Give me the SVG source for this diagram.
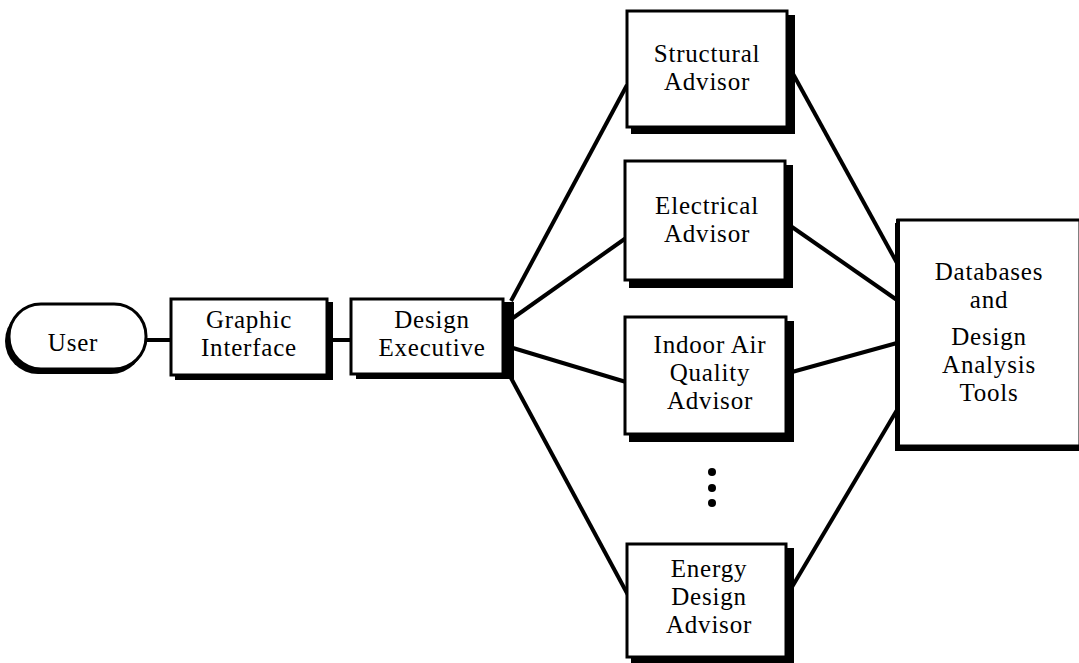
<svg xmlns="http://www.w3.org/2000/svg" width="1079" height="663" viewBox="0 0 1079 663">
<style>
.box{fill:#fff;stroke:#000;stroke-width:3}
.sh{fill:#000}
.t{font-family:"Liberation Serif","Times New Roman",serif;font-size:25px;letter-spacing:0.8px;fill:#000;text-anchor:middle}
.c{stroke:#000;stroke-width:4;fill:none}
</style>
<rect width="1079" height="663" fill="#fff"/>
<g id="connectors">
<line class="c" x1="146" y1="340" x2="172" y2="340"/>
<line class="c" x1="330" y1="340" x2="352" y2="340"/>
<line class="c" x1="511" y1="301" x2="627" y2="85"/>
<line class="c" x1="513" y1="318" x2="626" y2="238"/>
<line class="c" x1="513" y1="348" x2="626" y2="382"/>
<line class="c" x1="511" y1="378" x2="628" y2="595"/>
<line class="c" x1="792" y1="72" x2="897" y2="263"/>
<line class="c" x1="792" y1="227" x2="897" y2="300"/>
<line class="c" x1="792" y1="372" x2="897" y2="343"/>
<line class="c" x1="792" y1="587" x2="897" y2="410"/>
</g>
<g id="user">
<rect class="sh" x="5" y="308" width="139" height="66" rx="33"/>
<rect class="box" x="9" y="304" width="137" height="65" rx="32"/>
<text class="t" x="73" y="351">User</text>
</g>
<g id="graphic-interface">
<rect class="sh" x="175" y="302" width="158" height="78"/>
<rect class="box" x="171" y="299" width="156" height="76"/>
<text class="t" x="249" y="328">Graphic</text>
<text class="t" x="249" y="356">Interface</text>
</g>
<g id="design-executive">
<rect class="sh" x="356" y="302" width="158" height="77"/>
<rect class="box" x="351" y="299" width="152" height="75"/>
<text class="t" x="432" y="328">Design</text>
<text class="t" x="432" y="356">Executive</text>
</g>
<g id="structural-advisor">
<rect class="sh" x="631" y="15" width="164" height="119"/>
<rect class="box" x="627" y="11" width="160" height="116"/>
<text class="t" x="707" y="62">Structural</text>
<text class="t" x="707" y="90">Advisor</text>
</g>
<g id="electrical-advisor">
<rect class="sh" x="629" y="165" width="164" height="123"/>
<rect class="box" x="625" y="161" width="160" height="119"/>
<text class="t" x="707" y="214">Electrical</text>
<text class="t" x="707" y="242">Advisor</text>
</g>
<g id="indoor-air-quality-advisor">
<rect class="sh" x="629" y="321" width="165" height="121"/>
<rect class="box" x="625" y="317" width="161" height="117"/>
<text class="t" x="710" y="353">Indoor Air</text>
<text class="t" x="710" y="381">Quality</text>
<text class="t" x="710" y="409">Advisor</text>
</g>
<g id="ellipsis">
<circle cx="712" cy="472" r="4"/>
<circle cx="712" cy="488" r="4"/>
<circle cx="712" cy="503" r="4"/>
</g>
<g id="energy-design-advisor">
<rect class="sh" x="631" y="548" width="163" height="115"/>
<rect class="box" x="627" y="544" width="159" height="113"/>
<text class="t" x="709" y="577">Energy</text>
<text class="t" x="709" y="605">Design</text>
<text class="t" x="709" y="633">Advisor</text>
</g>
<g id="databases">
<rect class="sh" x="895" y="223" width="186" height="228"/>
<rect class="box" x="898" y="220" width="182" height="226"/>
<line class="c" x1="898" y1="219" x2="898" y2="448"/>
<text class="t" x="989" y="280">Databases</text>
<text class="t" x="989" y="308">and</text>
<text class="t" x="989" y="345">Design</text>
<text class="t" x="989" y="373">Analysis</text>
<text class="t" x="989" y="401">Tools</text>
</g>
</svg>
